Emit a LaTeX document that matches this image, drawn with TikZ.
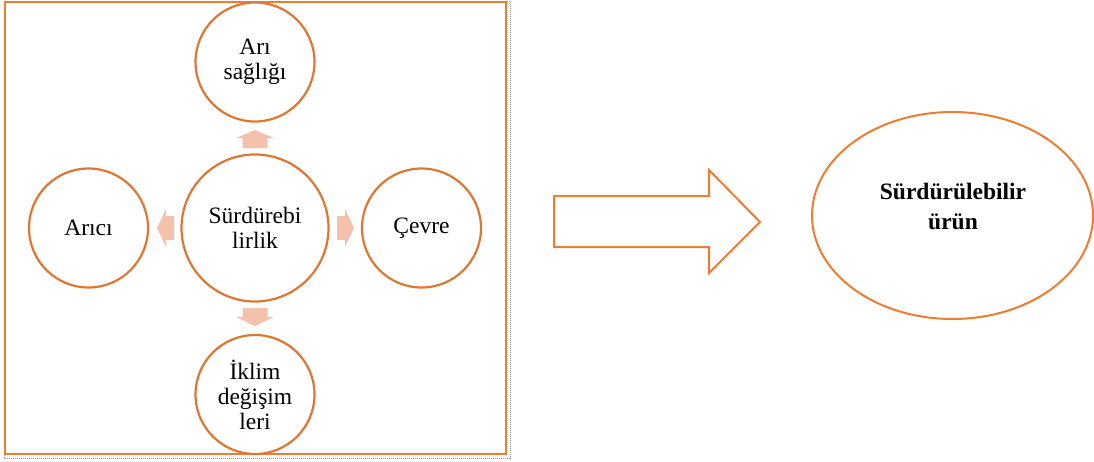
\documentclass[tikz,border=0pt]{standalone}
\usepackage{fontspec}
\setmainfont{Liberation Serif}
\usetikzlibrary{calc,shapes.geometric}
\definecolor{ringorange}{HTML}{DD7733}
\definecolor{lineorange}{HTML}{ED7D31}
\definecolor{softarrow}{HTML}{F4C1AC}
\tikzset{
  topic/.style={circle, draw=ringorange, line width=2.2pt, fill=white,
    minimum size=119pt, inner sep=0pt, align=center,
    font=\fontsize{23.5}{25}\selectfont},
  hub/.style={topic, minimum size=147pt},
  result/.style={ellipse, draw=lineorange, line width=2pt,
    minimum width=281pt, minimum height=207pt, inner sep=0pt},
  resulttext/.style={align=center, font=\fontsize{23.5}{30}\selectfont\bfseries},
  blockarrow/.style={fill=softarrow, draw=none},
  bigarrow/.style={draw=lineorange, line width=2pt, fill=white, line join=miter}
}
\begin{document}
\begin{tikzpicture}[x=1pt, y=-1pt]
  \useasboundingbox (0,0) rectangle (1094,461);

  % frame around the cycle
  \draw[gray!80, line width=1pt, dash pattern=on 1pt off 1pt] (4,1) rectangle (510,458);
  \draw[lineorange, line width=2pt] (5,2) rectangle (506,454);

  % central topic and its four satellites
  \node[hub]   (hub)   at (255,228)   {Sürdürebi\\lirlik};
  \node[topic] (bee)   at (255,62)    {Arı\\sağlığı};
  \node[topic] (keeper) at (88.5,228) {Arıcı};
  \node[topic] (env)   at (421.5,228) {Çevre};
  \node[topic] (clim)  at (255,394.5) {İklim\\değişim\\leri};

  % small block arrows from the hub outwards
  \fill[blockarrow] (242.5,148) -- (242.5,138) -- (236,138) -- (255,130)
    -- (274,138) -- (267.5,138) -- (267.5,148) -- cycle;
  \fill[blockarrow] (242.5,308) -- (242.5,317) -- (236,317) -- (255,326)
    -- (274,317) -- (267.5,317) -- (267.5,308) -- cycle;
  \fill[blockarrow] (174,216) -- (166,216) -- (166,209) -- (157,228)
    -- (166,247) -- (166,240) -- (174,240) -- cycle;
  \fill[blockarrow] (337,216) -- (345,216) -- (345,209) -- (354,228)
    -- (345,247) -- (345,240) -- (337,240) -- cycle;

  % outcome
  \node[result] (prod) at (952.5,215.5) {};
  \node[resulttext] (prodtext) at (953,206) {Sürdürülebilir\\ürün};

  % large hollow arrow towards the outcome
  \draw[bigarrow] (554,196) -- (709,196) -- (709,170) -- (760,222)
    -- (709,273) -- (709,247) -- (554,247) -- cycle;
\end{tikzpicture}
\end{document}
